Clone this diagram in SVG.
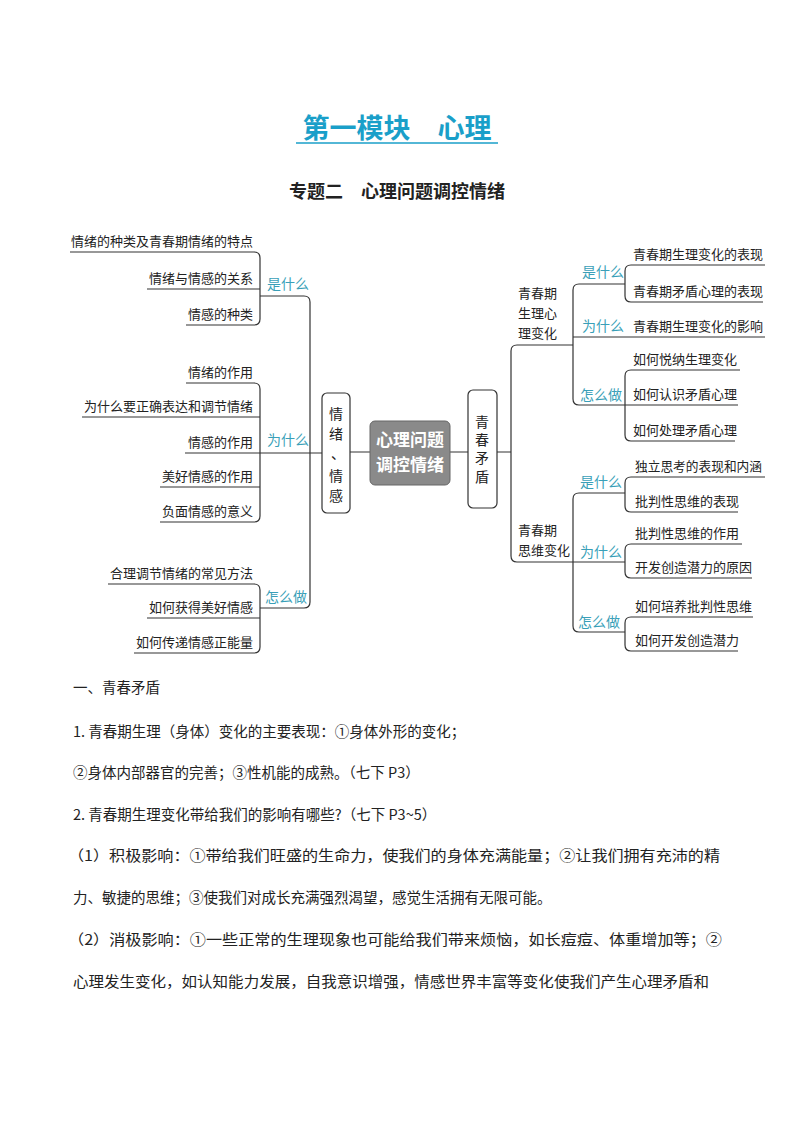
<svg xmlns="http://www.w3.org/2000/svg" width="794" height="1123" viewBox="0 0 794 1123">
<style>
text{font-family:"Noto Sans CJK SC",sans-serif;fill:#222}
.l{font-size:13px}
.r{font-size:13px;text-anchor:end}
.q{font-size:14px;fill:#3a9fb8}
.v{font-size:14px;text-anchor:middle}
.b{font-size:14.5px}
.ln{fill:none;stroke:#333;stroke-width:1.2}
.box{fill:#fff;stroke:#333;stroke-width:1.2}
</style>
<rect width="794" height="1123" fill="#fff"/>
<text x="397" y="138" font-size="27" font-weight="bold" text-anchor="middle" style="fill:#1a9fc9">第一模块　心理</text>
<line x1="296" y1="143" x2="498" y2="143" stroke="#1a9fc9" stroke-width="1.5"/>
<text x="397" y="198" font-size="18" font-weight="bold" text-anchor="middle">专题二　心理问题调控情绪</text>
<g id="connectors">
<path class="ln" d="M70,252 H254 Q260,252 260,258 V319 Q260,325 254,325 H186 M147,289 H260"/>
<path class="ln" d="M260,296 H304 Q310,296 310,302 V602 Q310,608 304,608 H260 M185,453 H322"/>
<path class="ln" d="M186,383 H254 Q260,383 260,389 V516 Q260,522 254,522 H160 M82,417 H260 M160,487 H260"/>
<path class="ln" d="M108,584 H254 Q260,584 260,590 V647 Q260,653 254,653 H134 M147,618 H260"/>
<path class="ln" d="M350,452 H370 M450,452 H468 M497,452 H511"/>
<path class="ln" d="M573,345 H517 Q511,345 511,351 V556 Q511,562 517,562 H573"/>
<path class="ln" d="M625,284 H579 Q573,284 573,290 V399 Q573,405 579,405 H625 M573,337 H765"/>
<path class="ln" d="M765,265 H631 Q625,265 625,271 V296 Q625,302 631,302 H763"/>
<path class="ln" d="M740,370 H631 Q625,370 625,376 V435 Q625,441 631,441 H735 M625,405 H738"/>
<path class="ln" d="M625,493 H579 Q573,493 573,499 V626 Q573,632 579,632 H625 M573,562 H625"/>
<path class="ln" d="M765,477 H631 Q625,477 625,483 V506 Q625,512 631,512 H738"/>
<path class="ln" d="M742,544 H631 Q625,544 625,550 V572 Q625,578 631,578 H752"/>
<path class="ln" d="M753,617 H631 Q625,617 625,623 V645 Q625,651 631,651 H738"/>
</g>
<g id="left-leaves">
<text class="r" x="253" y="246">情绪的种类及青春期情绪的特点</text>
<text class="r" x="253" y="283">情绪与情感的关系</text>
<text class="r" x="253" y="319">情感的种类</text>
<text class="r" x="253" y="377">情绪的作用</text>
<text class="r" x="253" y="411">为什么要正确表达和调节情绪</text>
<text class="r" x="253" y="447">情感的作用</text>
<text class="r" x="253" y="481">美好情感的作用</text>
<text class="r" x="253" y="516">负面情感的意义</text>
<text class="r" x="253" y="578">合理调节情绪的常见方法</text>
<text class="r" x="253" y="612">如何获得美好情感</text>
<text class="r" x="253" y="647">如何传递情感正能量</text>
<text class="q" x="267" y="289">是什么</text>
<text class="q" x="267" y="445">为什么</text>
<text class="q" x="265" y="602">怎么做</text>
</g>
<g id="node-qingxu">
<rect class="box" x="322" y="393" width="28" height="120" rx="5"/>
<text class="v" x="336" y="419">情</text>
<text class="v" x="336" y="439">绪</text>
<text class="v" x="338" y="459">、</text>
<text class="v" x="336" y="481">情</text>
<text class="v" x="336" y="501">感</text>
</g>
<g id="node-center">
<rect x="370" y="421" width="80" height="64" rx="5" fill="#8a8a8a" stroke="#666"/>
<text x="410" y="446" font-size="17" font-weight="bold" text-anchor="middle" style="fill:#fff">心理问题</text>
<text x="410" y="471" font-size="17" font-weight="bold" text-anchor="middle" style="fill:#fff">调控情绪</text>
</g>
<g id="node-qingchun">
<rect class="box" x="468" y="390" width="29" height="118" rx="5"/>
<text class="v" x="482" y="427">青</text>
<text class="v" x="482" y="445">春</text>
<text class="v" x="482" y="463">矛</text>
<text class="v" x="482" y="482">盾</text>
</g>
<g id="right-branches">
<text class="l" x="518" y="298">青春期</text>
<text class="l" x="518" y="318">生理心</text>
<text class="l" x="518" y="338">理变化</text>
<text class="l" x="518" y="535">青春期</text>
<text class="l" x="518" y="555">思维变化</text>
<text class="q" x="582" y="277">是什么</text>
<text class="q" x="582" y="331">为什么</text>
<text class="q" x="580" y="400">怎么做</text>
<text class="q" x="580" y="487">是什么</text>
<text class="q" x="580" y="557">为什么</text>
<text class="q" x="578" y="627">怎么做</text>
</g>
<g id="right-leaves">
<text class="l" x="633" y="259">青春期生理变化的表现</text>
<text class="l" x="633" y="296">青春期矛盾心理的表现</text>
<text class="l" x="633" y="331">青春期生理变化的影响</text>
<text class="l" x="633" y="364">如何悦纳生理变化</text>
<text class="l" x="633" y="399">如何认识矛盾心理</text>
<text class="l" x="633" y="435">如何处理矛盾心理</text>
<text class="l" x="635" y="471" textLength="127" lengthAdjust="spacingAndGlyphs">独立思考的表现和内涵</text>
<text class="l" x="635" y="506">批判性思维的表现</text>
<text class="l" x="635" y="538">批判性思维的作用</text>
<text class="l" x="635" y="572">开发创造潜力的原因</text>
<text class="l" x="635" y="611">如何培养批判性思维</text>
<text class="l" x="635" y="645">如何开发创造潜力</text>
</g>
<g id="body">
<text class="b" x="73" y="693">一、青春矛盾</text>
<text class="b" x="73" y="737">1. 青春期生理（身体）变化的主要表现：①身体外形的变化；</text>
<text class="b" x="73" y="778">②身体内部器官的完善；③性机能的成熟。（七下 P3）</text>
<text class="b" x="73" y="820">2. 青春期生理变化带给我们的影响有哪些?（七下 P3~5）</text>
<text class="b" x="68" y="861" textLength="652" lengthAdjust="spacingAndGlyphs">（1）积极影响：①带给我们旺盛的生命力，使我们的身体充满能量；②让我们拥有充沛的精</text>
<text class="b" x="73" y="903">力、敏捷的思维；③使我们对成长充满强烈渴望，感觉生活拥有无限可能。</text>
<text class="b" x="68" y="945" textLength="654" lengthAdjust="spacingAndGlyphs">（2）消极影响：①一些正常的生理现象也可能给我们带来烦恼，如长痘痘、体重增加等；②</text>
<text class="b" x="73" y="987" textLength="636" lengthAdjust="spacingAndGlyphs">心理发生变化，如认知能力发展，自我意识增强，情感世界丰富等变化使我们产生心理矛盾和</text>
</g>
</svg>
